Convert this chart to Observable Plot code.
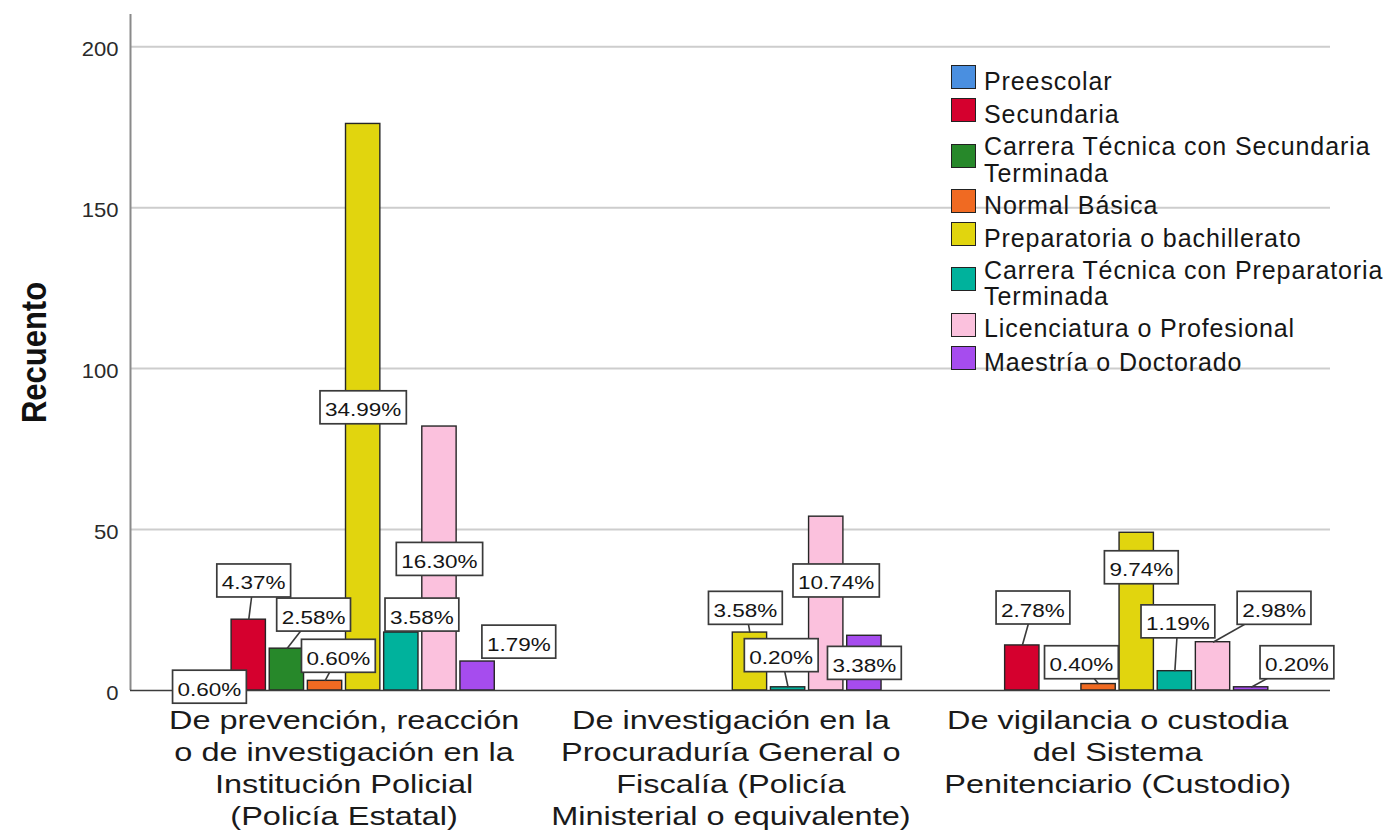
<!DOCTYPE html>
<html><head><meta charset="utf-8">
<script src="https://cdn.jsdelivr.net/npm/d3@7"></script>
<script src="https://cdn.jsdelivr.net/npm/@observablehq/plot@0.6"></script>
<style>
html,body{margin:0;padding:0;background:#fff;overflow:hidden;}
#chart{position:relative;width:1386px;height:831px;}
#legend{position:absolute;left:951px;top:60.5px;font-family:"Liberation Sans",Arial,sans-serif;font-size:25px;letter-spacing:0.9px;color:#161616;}
.row{display:flex;align-items:center;min-height:33.3px;padding:2px 0;box-sizing:border-box;}
.sw{width:25px;height:24px;border:1.8px solid #222;box-sizing:border-box;flex:none;}
.lab{margin-left:8px;line-height:26.6px;white-space:pre;position:relative;top:4px;}
</style></head><body><div id="chart"></div><script>
// ---- data ----
const groups = [
  "De prevención, reacción\no de investigación en la\nInstitución Policial\n(Policía Estatal)",
  "De investigación en la\nProcuraduría General o\nFiscalía (Policía\nMinisterial o equivalente)",
  "De vigilancia o custodia\ndel Sistema\nPenitenciario (Custodio)"
];
const levels = [
  "Preescolar",
  "Secundaria",
  "Carrera Técnica con Secundaria\nTerminada",
  "Normal Básica",
  "Preparatoria o bachillerato",
  "Carrera Técnica con Preparatoria\nTerminada",
  "Licenciatura o Profesional",
  "Maestría o Doctorado"
];
const colors = ["#4a8fe0","#d5002e","#27882a","#f06a22","#e1d50e","#00b29c","#fbc1dd","#a64cee"];
const countsPrevencion    = [3, 22, 13, 3, 176, 18, 82, 9];
const countsInvestigacion = [0, 0, 0, 0, 18, 1, 54, 17];
const countsVigilancia    = [0, 14, 0, 2, 49, 6, 15, 1];
const pctPrevencion    = ["0.60%","4.37%","2.58%","0.60%","34.99%","3.58%","16.30%","1.79%"];
const pctInvestigacion = [null,null,null,null,"3.58%","0.20%","10.74%","3.38%"];
const pctVigilancia    = [null,"2.78%",null,"0.40%","9.74%","1.19%","2.98%","0.20%"];
const yTicks = [0, 50, 100, 150, 200];
const yTitle = "Recuento";

// ---- layout (label nudges: [dx in bar slots, dy in counts, leader line]) ----
const nudgePrevencion = [[-0.03,-1.8,false],[0.13,12.2,true],[0.70,10.6,true],[0.35,7.8,true],[0,-88,false],[0.54,5.6,false],[0,-41.1,false],[1.08,6.2,false]];
const nudgeInvestigacion = [null,null,null,null,[-0.12,7.7,true],[-0.18,10,true],[0.26,-19.8,false],[0,-8.4,false]];
const nudgeVigilancia = [null,[0.28,11.8,true],null,[-0.45,6.8,true],[0.12,-10.7,false],[0.08,15.5,true],[1.6,10.7,true],[1.2,7.8,true]];

const GAP = 10.14;      // distance between group centres, in bar slots
const HALF = 0.45;      // half bar width, in bar slots
const xDomain = [-5.6, 2 * GAP + 5.58];

const counts = [countsPrevencion, countsInvestigacion, countsVigilancia];
const pcts = [pctPrevencion, pctInvestigacion, pctVigilancia];
const nudges = [nudgePrevencion, nudgeInvestigacion, nudgeVigilancia];
const rows = [];
counts.forEach((arr, g) => arr.forEach((c, j) => {
  if (c > 0) rows.push({g, level: levels[j], count: c, pct: pcts[g][j],
    center: g * GAP + (j - 3.5), ndx: nudges[g][j][0], ndy: nudges[g][j][1], leader: nudges[g][j][2]});
}));

const font = "Liberation Sans, Arial, sans-serif";
const plot = Plot.plot({
  width: 1386, height: 831,
  marginLeft: 130, marginRight: 56, marginTop: 14, marginBottom: 141,
  style: {fontFamily: font, background: "white", color: "#1a1a1a"},
  x: {type: "linear", domain: xDomain, axis: null},
  y: {domain: [0, 210], axis: null},
  color: {domain: levels, range: colors},
  marks: [
    Plot.ruleY(yTicks.filter(d => d > 0), {stroke: "#cdcdcd", strokeWidth: 2}),
    Plot.ruleX([xDomain[0]], {y1: 0, y2: 210, stroke: "#8a8a8a", strokeWidth: 2}),
    Plot.rect(rows, {x1: d => d.center - HALF, x2: d => d.center + HALF, y1: 0, y2: "count",
      fill: "level", stroke: "#262626", strokeWidth: 1.4}),
    Plot.ruleY([0], {stroke: "#3c3c3c", strokeWidth: 1.6}),
    Plot.link(rows.filter(d => d.leader), {x1: "center", y1: "count",
      x2: d => d.center + d.ndx, y2: d => d.count + d.ndy, stroke: "#3a3a3a", strokeWidth: 1.6}),
    Plot.text(rows.filter(d => d.pct), {x: d => d.center + d.ndx, y: d => d.count + d.ndy,
      text: "pct", fontSize: 18, dy: 3.3, fill: "#151515"}),
    Plot.text(yTicks, {y: d => d, text: d => String(d), frameAnchor: "left", textAnchor: "end",
      dx: -12, dy: 3, fontSize: 21, fill: "#2a2a2a"}),
    Plot.text(groups, {x: (d, i) => i * GAP, y: () => 0, text: d => d, lineAnchor: "top",
      dy: 16, fontSize: 25, lineHeight: 1.28, fill: "#1a1a1a"}),
    Plot.text([yTitle], {frameAnchor: "left", textAnchor: "middle", rotate: -90, dx: -96, fontSize: 31,
      fontWeight: "bold", fill: "#111"})
  ]
});
document.getElementById("chart").append(plot);

// classify texts by content
const texts = Array.from(plot.querySelectorAll("text"));
const pctTexts = texts.filter(t => /%$/.test(t.textContent.trim()));
const tickTexts = texts.filter(t => /^\d+$/.test(t.textContent.trim()));
const xlabTexts = texts.filter(t => t.querySelector("tspan"));
const titleTexts = texts.filter(t => t.textContent.trim() === yTitle);

function stretch(list, sx, sy) {
  list.forEach(t => t.setAttribute("transform", (t.getAttribute("transform") || "") + ` scale(${sx},${sy})`));
}
// boxes behind percentage labels
pctTexts.forEach(t => {
  const b = t.getBBox();
  t.setAttribute("transform", (t.getAttribute("transform") || "") + " scale(1.25,1)");
  const m = t.transform.baseVal.consolidate().matrix;
  const w = b.width * m.a + 10, h = 33;
  const cx = m.e + m.a * (b.x + b.width / 2);
  const cy = m.f + (b.y + b.height / 2) - 3;
  const r = document.createElementNS("http://www.w3.org/2000/svg", "rect");
  r.setAttribute("x", cx - w / 2); r.setAttribute("y", cy - h / 2);
  r.setAttribute("width", w); r.setAttribute("height", h);
  r.setAttribute("fill", "white"); r.setAttribute("stroke", "#3a3a3a"); r.setAttribute("stroke-width", 1.7);
  t.parentNode.insertBefore(r, t);
});
stretch(tickTexts, 1.05, 1);
stretch(xlabTexts, 1.3, 1);
stretch(titleTexts, 1, 1.15);

// legend
const legend = d3.select("#chart").append("div").attr("id", "legend");
levels.forEach((l, i) => {
  const row = legend.append("div").attr("class", "row");
  row.append("div").attr("class", "sw").style("background", plot.scale("color").apply(l));
  row.append("div").attr("class", "lab").text(l);
});
</script></body></html>
